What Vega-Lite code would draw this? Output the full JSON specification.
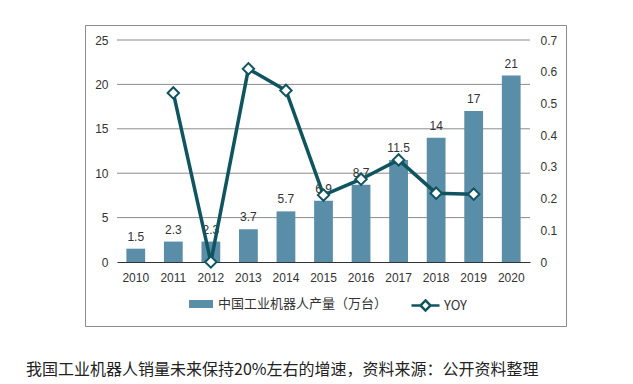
{
  "$schema": "https://vega.github.io/schema/vega-lite/v6.json",
  "width": 481,
  "height": 301,
  "autosize": {"type": "none"},
  "padding": {"left": 85, "top": 25, "right": 67, "bottom": 58},
  "background": "white",
  "config": {
    "view": {"stroke": "#8c8c8c", "strokeWidth": 1},
    "font": "Liberation Sans"
  },
  "title": {
    "text": "我国工业机器人销量未来保持20%左右的增速，资料来源：公开资料整理",
    "orient": "bottom",
    "anchor": "start",
    "frame": "group",
    "dx": -59,
    "offset": 36,
    "font": "Noto Sans CJK SC",
    "fontSize": 16,
    "fontWeight": "normal",
    "color": "#222222"
  },
  "datasets": {
    "main": [
      {"year": "2010", "value": 1.5, "yoy": null},
      {"year": "2011", "value": 2.3, "yoy": 0.533},
      {"year": "2012", "value": 2.3, "yoy": 0},
      {"year": "2013", "value": 3.7, "yoy": 0.609},
      {"year": "2014", "value": 5.7, "yoy": 0.541},
      {"year": "2015", "value": 6.9, "yoy": 0.211},
      {"year": "2016", "value": 8.7, "yoy": 0.261},
      {"year": "2017", "value": 11.5, "yoy": 0.322},
      {"year": "2018", "value": 14, "yoy": 0.217},
      {"year": "2019", "value": 17, "yoy": 0.214},
      {"year": "2020", "value": 21, "yoy": null}
    ],
    "grid": [{"g": 5}, {"g": 10}, {"g": 15}, {"g": 20}, {"g": 25}]
  },
  "layer": [
    {
      "layer": [
        {
          "data": {"name": "grid"},
          "mark": {"type": "rule", "color": "#8c8c8c", "strokeWidth": 1},
          "encoding": {
            "y": {"field": "g", "type": "quantitative", "title": null},
            "x": {"datum": "2010", "type": "nominal", "bandPosition": 0},
            "x2": {"datum": "2020", "bandPosition": 1}
          }
        },
        {
          "data": {"name": "main"},
          "mark": {"type": "bar", "width": {"band": 0.5}},
          "encoding": {
            "x": {
              "field": "year",
              "type": "nominal",
              "title": null,
              "scale": {
                "type": "band",
                "domain": ["2010", "2011", "2012", "2013", "2014", "2015", "2016", "2017", "2018", "2019", "2020"],
                "range": [32, 445],
                "paddingInner": 0,
                "paddingOuter": 0
              },
              "axis": {
                "orient": "bottom",
                "offset": -64,
                "bandPosition": 0.5,
                "labelAngle": 0,
                "labelAlign": "center",
                "ticks": false,
                "domainColor": "#333333",
                "domainWidth": 1.2,
                "labelFontSize": 12,
                "labelColor": "#333333",
                "labelPadding": 15,
                "grid": false
              }
            },
            "y": {
              "field": "value",
              "type": "quantitative",
              "title": null,
              "scale": {"domain": [0, 25], "range": [237, 15], "nice": false},
              "axis": {
                "orient": "left",
                "offset": -27,
                "values": [0, 5, 10, 15, 20, 25],
                "ticks": false,
                "domain": false,
                "grid": false,
                "labelFontSize": 12,
                "labelColor": "#333333",
                "labelPadding": 4
              }
            },
            "color": {
              "datum": "中国工业机器人产量（万台）",
              "type": "nominal",
              "scale": {"domain": ["中国工业机器人产量（万台）"], "range": ["#5a8da7"]},
              "legend": {
                "orient": "none",
                "legendX": 102,
                "legendY": 265,
                "title": null,
                "padding": 0,
                "symbolType": "M-0.857,-0.286H0.857V0.286H-0.857Z",
                "symbolSize": 784,
                "symbolStrokeWidth": 0,
                "labelFontSize": 13,
                "labelFont": "Noto Sans CJK SC",
                "labelColor": "#333333",
                "labelOffset": 3,
                "labelLimit": 400
              }
            }
          }
        },
        {
          "data": {"name": "main"},
          "mark": {"type": "text", "baseline": "bottom", "dy": -5, "fontSize": 12, "fill": "#333333"},
          "encoding": {
            "x": {"field": "year", "type": "nominal"},
            "y": {"field": "value", "type": "quantitative", "title": null},
            "text": {"field": "value", "type": "nominal"}
          }
        }
      ]
    },
    {
      "data": {"name": "main"},
      "transform": [{"filter": "datum.yoy != null"}],
      "layer": [
        {
          "mark": {"type": "line", "strokeWidth": 3.5},
          "encoding": {
            "x": {"field": "year", "type": "nominal"},
            "y": {
              "field": "yoy",
              "type": "quantitative",
              "title": null,
              "scale": {"domain": [0, 0.7], "range": [237, 15], "nice": false},
              "axis": {
                "orient": "right",
                "offset": -31,
                "values": [0, 0.1, 0.2, 0.3, 0.4, 0.5, 0.6, 0.7],
                "format": ".1~f",
                "ticks": false,
                "domain": false,
                "grid": false,
                "labelFontSize": 12,
                "labelColor": "#333333",
                "labelPadding": 5
              }
            },
            "color": {
              "datum": "YOY",
              "type": "nominal",
              "scale": {"domain": ["YOY"], "range": ["#10545f"]},
              "legend": {
                "orient": "none",
                "legendX": 325,
                "legendY": 265,
                "title": null,
                "padding": 0,
                "symbolType": "M-1,0H-0.36M0.36,0H1M0,-0.36L0.36,0L0,0.36L-0.36,0Z",
                "symbolSize": 784,
                "symbolFillColor": "#ffffff",
                "symbolStrokeWidth": 2.5,
                "labelFontSize": 13,
                "labelFont": "Noto Sans CJK SC",
                "labelColor": "#333333",
                "labelOffset": 3
              }
            }
          }
        },
        {
          "mark": {"type": "point", "shape": "diamond", "filled": true, "fill": "#ffffff", "stroke": "#10545f", "strokeWidth": 2, "size": 130, "opacity": 1},
          "encoding": {
            "x": {"field": "year", "type": "nominal"},
            "y": {"field": "yoy", "type": "quantitative", "title": null}
          }
        }
      ]
    }
  ],
  "resolve": {"scale": {"y": "independent", "color": "independent"}}
}
